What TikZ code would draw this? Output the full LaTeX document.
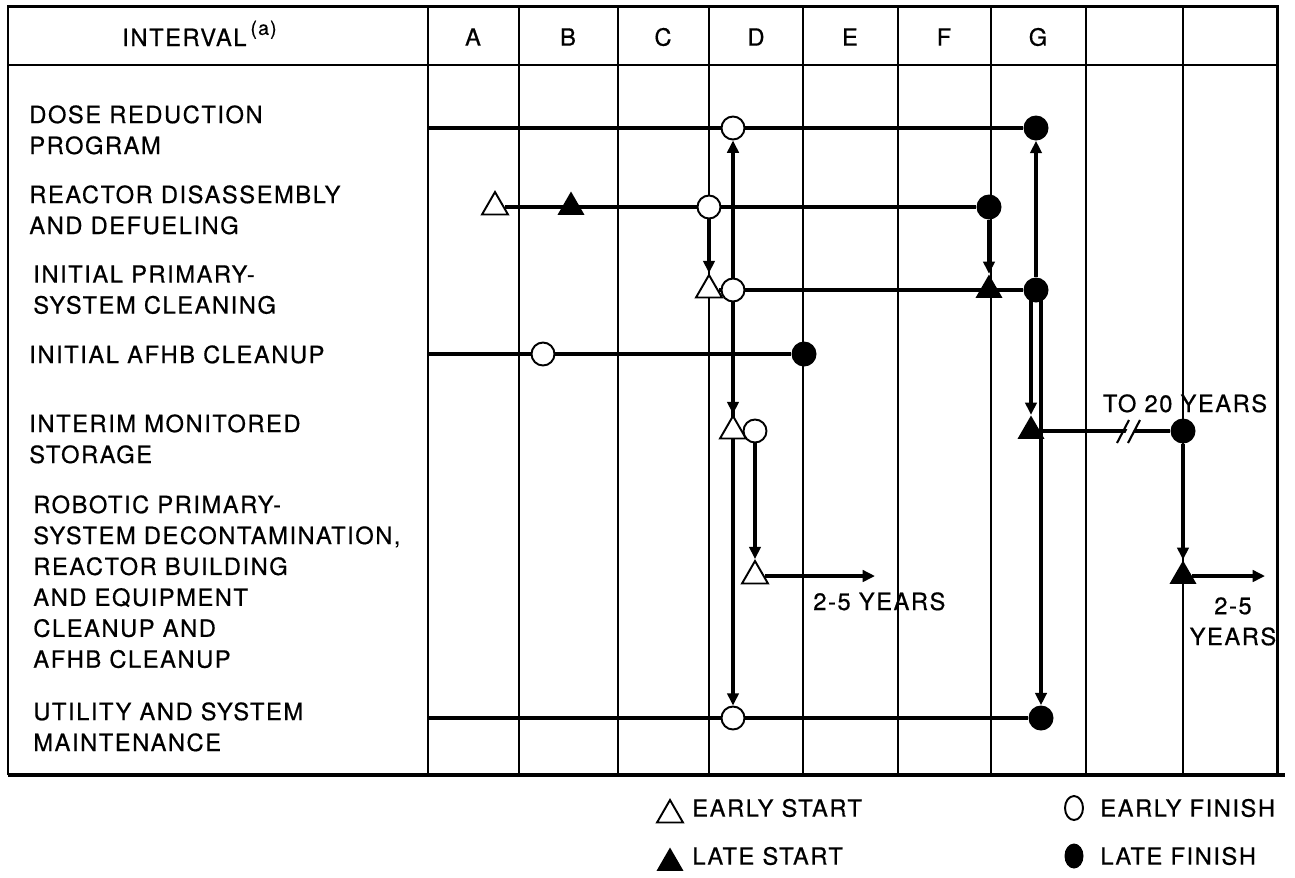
\documentclass[tikz,border=0pt]{standalone}
\usepackage{fontspec}
\setmainfont{TeX Gyre Heros}[LetterSpace=6.5, FakeBold=0.6]
\usetikzlibrary{shapes.geometric,arrows.meta}
\pgfdeclarelayer{fondo}
\pgfsetlayers{fondo,main}

\begin{document}
\begin{tikzpicture}[x=0.02cm, y=-0.02cm,
    every node/.style={font=\fontsize{13.5}{17.6}\selectfont, inner sep=0pt},
    ef/.style={circle, draw, fill=white, line width=1.1pt, minimum size=0.46cm},
    lf/.style={circle, fill=black, minimum size=0.5cm},
    es/.style={regular polygon, regular polygon sides=3, draw, fill=white, line width=1.1pt, minimum size=0.6cm},
    ls/.style={regular polygon, regular polygon sides=3, fill=black, minimum size=0.62cm},
    rejilla/.style={line width=1.1pt},
    activ/.style={line width=2.3pt},
    flecha/.style={line width=2.1pt, -{Triangle[length=7pt,width=6.5pt]}},
    etiqueta/.style={anchor=north west, align=left}]
    \useasboundingbox (0,0) rectangle (1295,877);

    % Encabezado
    \node[anchor=base west] (intervalo) at (122,46) {INTERVAL\,\raisebox{0.9ex}{\fontsize{11}{12}\selectfont(a)}};
    \foreach \letra/\cx in {A/473, B/568, C/663, D/756, E/850, F/944, G/1038}
        \node (col\letra) at (\cx,37) {\letra};

    % Nombres de las actividades
    \node[etiqueta] (dosis) at (29,105) {DOSE REDUCTION\\PROGRAM};
    \node[etiqueta] (reactor) at (29,185) {REACTOR DISASSEMBLY\\AND DEFUELING};
    \node[etiqueta] (primario) at (33,265) {INITIAL PRIMARY-\\SYSTEM CLEANING};
    \node[etiqueta] (afhb) at (29,345) {INITIAL AFHB CLEANUP};
    \node[etiqueta] (almacen) at (29,414) {INTERIM MONITORED\\STORAGE};
    \node[etiqueta] (robot) at (33,495) {ROBOTIC PRIMARY-\\SYSTEM DECONTAMINATION,\\REACTOR BUILDING\\AND EQUIPMENT\\CLEANUP AND\\AFHB CLEANUP};
    \node[etiqueta] (servicio) at (33,702) {UTILITY AND SYSTEM\\MAINTENANCE};

    % Sucesos de cada actividad
    \node[ef] (OF1) at (733,128) {};
    \node[lf] (LF1) at (1036,128) {};
    \node[es] (ES2) at (495,207) {};
    \node[ls] (LS2) at (571,207) {};
    \node[ef] (OF2) at (709,207) {};
    \node[lf] (LF2) at (989,207) {};
    \node[es] (ES3) at (709,290) {};
    \node[ef] (EF3) at (733,290) {};
    \node[ls] (LS3) at (989,290) {};
    \node[lf] (LF3) at (1036,290) {};
    \node[ef] (EF4) at (543,354) {};
    \node[lf] (LF4) at (804,354) {};
    \node[es] (ES5) at (733,431) {};
    \node[ef] (EF5) at (755,431) {};
    \node[ls] (LS5) at (1031,431) {};
    \node[lf] (LF5) at (1183,431) {};
    \node[es] (ES6) at (755,576) {};
    \node[ls] (LS6) at (1183,576) {};
    \node[ef] (EF7) at (733,718) {};
    \node[lf] (LF7) at (1041,718) {};

    % Duraciones
    \node[anchor=base] (veinte) at (1185,412) {TO 20 YEARS};
    \node[anchor=base west] (dosfive) at (813,610) {2-5 YEARS};
    \node[anchor=north, align=center] (dosfivedcha) at (1233,597) {2-5\\YEARS};

    % Leyenda
    \node[es] (legES) at (670,815) {};
    \node[anchor=west] (txtES) at (692,808) {EARLY START};
    \node[ls] (legLS) at (670,863) {};
    \node[anchor=west] (txtLS) at (692,856) {LATE START};
    \node[ellipse, draw, line width=1.1pt, minimum width=0.36cm, minimum height=0.48cm] (legEF) at (1074,808) {};
    \node[anchor=west] (txtEF) at (1100,808) {EARLY FINISH};
    \node[ellipse, fill=black, minimum width=0.38cm, minimum height=0.5cm] (legLF) at (1074,856) {};
    \node[anchor=west] (txtLF) at (1100,856) {LATE FINISH};

    \begin{pgfonlayer}{fondo}
        % Dibuja la cuadricula
        \draw[line width=1.7pt] (8,775) -- (8,6) -- (1277,6) -- (1277,775);
        \draw[rejilla] (8,65) -- (1277,65);
        \foreach \cx in {428,519,618,709,803,898,991,1086,1183}
            \draw[rejilla] (\cx,6) -- (\cx,775);
        \draw[line width=2.6pt] (8,775) -- (1285,775);

        % Dibuja las actividades
        \coordinate (ini1) at (428,128);
        \coordinate (ini4) at (428,354);
        \coordinate (ini7) at (428,718);
        \coordinate (fin6) at (875,576);
        \coordinate (fin6b) at (1265,576);
        \draw[activ] (ini1) -- (LF1);
        \draw[activ] (ES2) -- (LF2);
        \draw[activ] (ES3) -- (LF3);
        \draw[activ] (ini4) -- (LF4);
        \draw[activ] (LS5) -- (LF5);
        \draw[activ] (ini7) -- (LF7);
        \draw[flecha] (ES6) -- (fin6);
        \draw[flecha] (LS6) -- (fin6b);

        % Corte de la escala
        \fill[white] (1121,442) -- (1132,420) -- (1140,420) -- (1129,442) -- cycle;
        \draw[line width=1.2pt] (1117,443) -- (1129,420) (1128,443) -- (1140,420);

        % Dibuja las dependencias
        \draw[flecha] (OF2) -- (ES3.north);
        \draw[flecha] (EF3) -- (OF1);
        \draw[flecha] (EF3) -- (ES5.north);
        \draw[flecha] (EF3) -- (EF7);
        \draw[flecha] (EF5) -- (ES6.north);
        \draw[flecha] (LF2) -- (LS3.north);
        \draw[flecha] (LF3) -- (LF1);
        \draw[flecha] ([xshift=-0.1cm]LF3.center) -- (LS5.north);
        \draw[flecha] ([xshift=0.1cm]LF3.center) -- (LF7);
        \draw[flecha] (LF5) -- (LS6.north);
    \end{pgfonlayer}
\end{tikzpicture}
\end{document}
